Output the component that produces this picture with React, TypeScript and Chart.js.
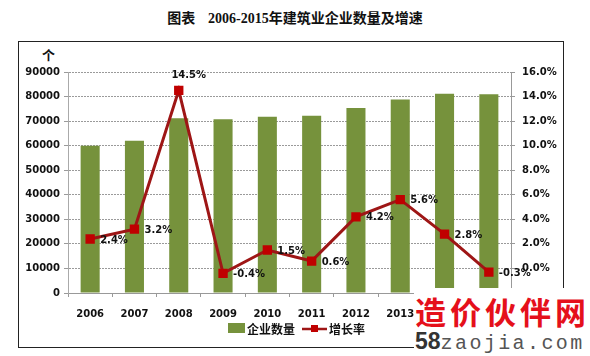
import React, { useEffect, useRef } from "react";
import { Chart, registerables } from "chart.js";

Chart.register(...registerables);

const years = ["2006", "2007", "2008", "2009", "2010", "2011", "2012", "2013", "2014", "2015"];
const companies = [60000, 62000, 71200, 70800, 71800, 72200, 75300, 78800, 81100, 80900];
const growth = [2.4, 3.2, 14.5, -0.4, 1.5, 0.6, 4.2, 5.6, 2.8, -0.3];
const barLabel = "企业数量";
const lineLabel = "增长率";
const titleText = ["图表", "2006-2015", "年建筑业企业数量及增速"];
const unitText = "个";

const BAR_COLOR = "#76923C";
const LINE_COLOR = "#9E1616";
const MARK_COLOR = "#C00000";
const TICK_FONT = { family: '"DejaVu Sans", Verdana, sans-serif', size: 10, weight: "bold" as const };

const labelsPlugin = {
  id: "customLabels",
  afterDatasetsDraw(chart: any) {
    const ctx = chart.ctx;
    const meta = chart.getDatasetMeta(1);
    const maxV = Math.max(...growth);
    ctx.save();
    ctx.font = 'bold 10px "DejaVu Sans", Verdana, sans-serif';
    ctx.fillStyle = "#111";
    ctx.textBaseline = "middle";
    meta.data.forEach((pt: any, i: number) => {
      const txt = growth[i].toFixed(1) + "%";
      if (growth[i] === maxV) {
        ctx.textAlign = "center";
        ctx.fillText(txt, pt.x + 10, pt.y - 15);
      } else {
        ctx.textAlign = "left";
        ctx.fillText(txt, pt.x + 10, pt.y + 1);
      }
    });
    ctx.restore();
  },
  afterDraw(chart: any) {
    const ctx = chart.ctx;
    ctx.save();
    const ly = 330;
    ctx.fillStyle = BAR_COLOR;
    ctx.fillRect(228, ly - 7, 17, 10);
    ctx.fillStyle = "#111";
    ctx.font = 'bold 12px "Noto Sans CJK SC", sans-serif';
    ctx.textBaseline = "middle";
    ctx.textAlign = "left";
    ctx.fillText(barLabel, 247, ly - 1);
    ctx.strokeStyle = LINE_COLOR;
    ctx.lineWidth = 2.5;
    ctx.beginPath();
    ctx.moveTo(302, ly - 1);
    ctx.lineTo(327, ly - 1);
    ctx.stroke();
    ctx.fillStyle = MARK_COLOR;
    ctx.fillRect(311, ly - 5, 7, 7);
    ctx.fillStyle = "#111";
    ctx.fillText(lineLabel, 329, ly - 1);
    ctx.restore();
  },
};

export default function App() {
  const ref = useRef<HTMLCanvasElement>(null);

  useEffect(() => {
    if (!ref.current) return;
    const chart = new Chart(ref.current, {
      type: "bar",
      data: {
        labels: years,
        datasets: [
          {
            type: "bar",
            label: barLabel,
            data: companies,
            backgroundColor: BAR_COLOR,
            yAxisID: "y",
            barPercentage: 0.43,
            categoryPercentage: 1,
            order: 2,
          },
          {
            type: "line",
            label: lineLabel,
            data: growth,
            yAxisID: "y1",
            borderColor: LINE_COLOR,
            borderWidth: 3,
            pointStyle: "rect",
            pointRadius: 4.5,
            pointBackgroundColor: MARK_COLOR,
            pointBorderColor: MARK_COLOR,
            tension: 0,
            order: 1,
          } as any,
        ],
      },
      options: {
        responsive: false,
        animation: false,
        devicePixelRatio: 1,
        layout: { padding: { top: 72, bottom: 23, left: 0, right: 0 } },
        plugins: { legend: { display: false }, tooltip: { enabled: false }, title: { display: false } },
        scales: {
          x: {
            grid: { offset: true, drawOnChartArea: false, tickLength: 4, color: "#999" },
            border: { color: "#999", dash: [2, 1] },
            ticks: { color: "#111", font: TICK_FONT, padding: 11, maxRotation: 0, autoSkip: false },
            afterFit: (s: any) => { s.height = 40; },
          },
          y: {
            position: "left",
            min: 0,
            max: 90000,
            ticks: {
              stepSize: 10000,
              color: "#111",
              font: TICK_FONT,
              padding: 4,
              callback: (v: any) => String(Math.round(Number(v))),
            },
            grid: { color: "#9a9a9a", tickLength: 4 },
            border: { color: "#aaa", dash: [2, 1] },
            afterFit: (s: any) => { s.width = 68; },
          },
          y1: {
            position: "right",
            min: -2,
            max: 16,
            ticks: {
              stepSize: 2,
              color: "#111",
              font: TICK_FONT,
              padding: 7,
              callback: (v: any) => (Number(v) < 0 ? "" : Number(v).toFixed(1) + "%"),
            },
            grid: { drawOnChartArea: false, tickLength: 4, color: "#999" },
            border: { color: "#999", dash: [2, 1] },
            afterFit: (s: any) => { s.width = 79; },
          },
        },
      },
      plugins: [labelsPlugin],
    });
    return () => chart.destroy();
  }, []);

  return (
    <div style={{ position: "absolute", left: 0, top: 0, width: 590, height: 356, background: "#fff", overflow: "hidden" }}>
      <div
        style={{
          position: "absolute",
          left: 0,
          top: 7,
          width: 590,
          textAlign: "center",
          fontWeight: "bold",
          fontSize: 14,
          lineHeight: "20px",
          color: "#111",
          fontFamily: '"Noto Sans CJK SC", sans-serif',
          whiteSpace: "pre",
        }}
      >
        <span>{titleText[0]}</span>
        <span>{"    "}</span>
        <span style={{ fontFamily: '"Liberation Serif", serif', fontSize: 14 }}>{titleText[1]}</span>
        <span>{titleText[2]}</span>
      </div>
      <div
        style={{
          position: "absolute",
          left: 18,
          top: 41,
          width: 546,
          height: 307,
          boxSizing: "border-box",
          border: "1px solid #222",
        }}
      />
      <div
        style={{
          position: "absolute",
          left: 42,
          top: 48,
          fontSize: 13,
          lineHeight: "14px",
          fontWeight: "bold",
          fontFamily: '"Noto Sans CJK SC", sans-serif',
          color: "#111",
        }}
      >
        {unitText}
      </div>
      <canvas ref={ref} width={590} height={356} style={{ position: "absolute", left: 0, top: 0, width: 590, height: 356 }} />
      <div style={{ position: "absolute", left: 414, top: 288, width: 176, height: 68, background: "#fff" }} />
      <div
        style={{
          position: "absolute",
          left: 415,
          top: 295,
          fontSize: 31,
          lineHeight: "32px",
          letterSpacing: 4,
          fontWeight: 700,
          color: "#E5101B",
          fontFamily: '"Noto Sans CJK SC", sans-serif',
          whiteSpace: "nowrap",
        }}
      >
        造价伙伴网
      </div>
      <div
        style={{
          position: "absolute",
          left: 415,
          top: 329,
          whiteSpace: "nowrap",
          lineHeight: "24px",
        }}
      >
        <span style={{ fontFamily: '"Liberation Sans", sans-serif', fontWeight: "bold", fontSize: 23, color: "#333" }}>58</span>
        <span style={{ fontFamily: '"Liberation Mono", monospace', fontSize: 20, letterSpacing: 2.4, color: "#555" }}>zaojia.com</span>
      </div>
    </div>
  );
}
